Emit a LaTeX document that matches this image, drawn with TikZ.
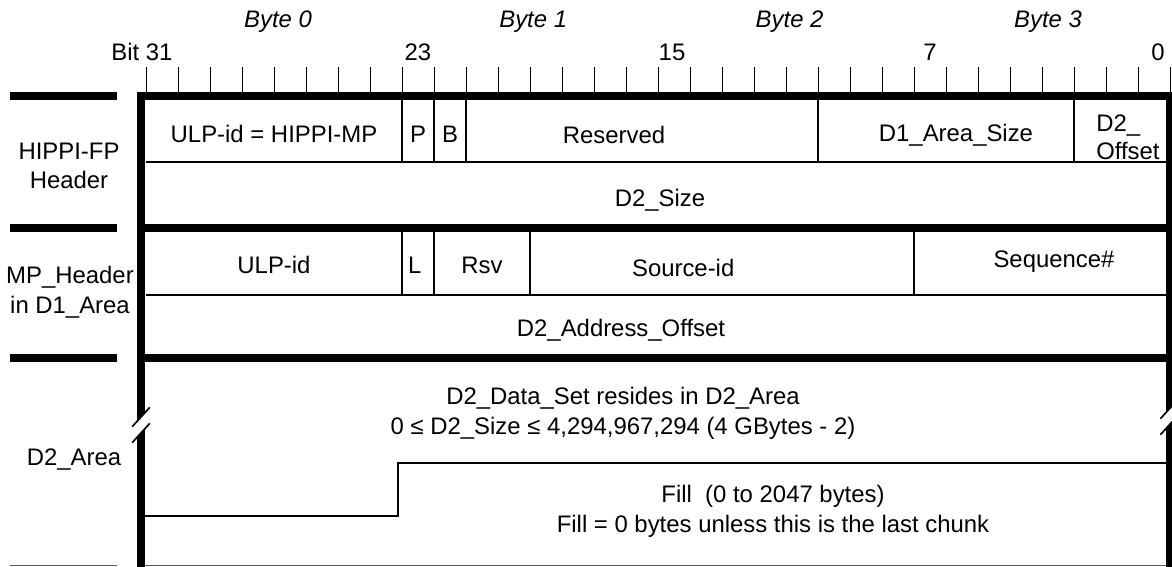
\documentclass[tikz,border=0pt]{standalone}
\usepackage{fontspec}
\setmainfont{Liberation Sans}
\usetikzlibrary{positioning,calc}
\definecolor{rulegray}{HTML}{5A5A5A}
\newcommand{\fieldrow}[3]{%
  \draw[thinrule] (0,#2) -- (25.6,#2);
  \foreach \b in {#3} \draw[thinrule] (\b*0.8,#1) -- (\b*0.8,#2);
}
\newcommand{\axisbreak}[2]{%
  \begin{scope}[shift={(#1,#2)}]
    \fill[white] (-0.14,0.046) -- (0.14,0.354) -- (0.14,-0.046) -- (-0.14,-0.354) -- cycle;
    \draw[line width=1.2pt] (-0.22,-0.042) -- (0.22,0.442);
    \draw[line width=1.2pt] (-0.22,-0.442) -- (0.22,0.042);
  \end{scope}
}

\begin{document}
\begin{tikzpicture}[
  hdr/.style={font=\fontsize{17}{20.5}\selectfont,inner sep=0pt,align=center},
  bytelbl/.style={hdr,font=\fontsize{17}{20.5}\selectfont\itshape},
  twoline/.style={hdr,font=\fontsize{17}{21.5}\selectfont},
  thickrule/.style={line width=5pt},
  thinrule/.style={line width=1.2pt},
  tickrule/.style={line width=0.6pt}]
  \useasboundingbox (-3.65,2.4) rectangle (25.65,-11.775);

  \foreach \b in {0,...,32} \draw[tickrule] (\b*0.8,0) -- (\b*0.8,0.725);
  \node[hdr] (bit31) at (-0.1,1.1) {Bit 31};
  \foreach \n/\x in {23/6.8,15/13.15,7/19.6,0/25.3}
    \node[hdr] (bit\n) at (\x,1.1) {\n};
  \foreach \n/\x in {0/3.3,1/9.68,2/16.09,3/22.55}
    \node[bytelbl] (byte\n) at (\x,1.85) {Byte \n};

  \fieldrow{0}{-1.65}{8,9,10,21,29}
  \fieldrow{-3.3}{-4.975}{8,9,12,24}
  \draw[thinrule] (25.58,-9.175) -| (6.3,-10.5) -- (-0.12,-10.5);
  \draw[rulegray,line width=0.8pt] (-0.12,-11.74) -- (25.58,-11.74);
  \draw[rulegray,line width=0.8pt] (-3.4,-11.74) -- (-0.725,-11.74);

  \draw[thickrule] (-0.125,-11.8) -- (-0.125,0) -- (25.58,0) -- (25.58,-11.8);
  \foreach \y in {-3.3,-6.55} \draw[thickrule] (-0.125,\y) -- (25.58,\y);
  \foreach \y in {0,-3.3,-6.55} \draw[thickrule] (-3.4,\y) -- (-0.725,\y);
  \axisbreak{-0.125}{-8.225}
  \axisbreak{25.58}{-8.025}

  \node[hdr] (fpulp) at (3.2,-0.95) {ULP-id = HIPPI-MP};
  \node[hdr] (fpp) at (6.8,-0.95) {P};
  \node[hdr] (fpb) at (7.6,-0.95) {B};
  \node[hdr] (fprsv) at (11.7,-0.98) {Reserved};
  \node[hdr] (fpd1) at (20.25,-0.98) {D1\_Area\_Size};
  \node[hdr,align=left,anchor=west] (fpoff) at (23.75,-1.03) {D2\_\\Offset};
  \node[hdr] (fpd2size) at (12.85,-2.6) {D2\_Size};

  \node[hdr] (mpulp) at (3.2,-4.225) {ULP-id};
  \node[hdr] (mpl) at (6.72,-4.225) {L};
  \node[hdr] (mprsv) at (8.4,-4.225) {Rsv};
  \node[hdr] (mpsrc) at (13.43,-4.3) {Source-id};
  \node[hdr] (mpseq) at (22.7,-4.15) {Sequence\#};
  \node[hdr] (mpaddr) at (11.875,-5.85) {D2\_Address\_Offset};

  \node[twoline] (dataset) at (11.925,-7.925)
    {D2\_Data\_Set resides in D2\_Area\\0 ≤ D2\_Size ≤ 4,294,967,294 (4 GBytes - 2)};
  \node[twoline] (fill) at (15.675,-10.375)
    {Fill~ (0 to 2047 bytes)\\Fill = 0 bytes unless this is the last chunk};

  \node[hdr] (fphdr) at (-1.925,-1.75) {HIPPI-FP\\Header};
  \node[twoline] (mphdr) at (-1.9,-4.9) {MP\_Header\\in D1\_Area};
  \node[hdr] (d2area) at (-1.8,-9.1) {D2\_Area};
\end{tikzpicture}
\end{document}
